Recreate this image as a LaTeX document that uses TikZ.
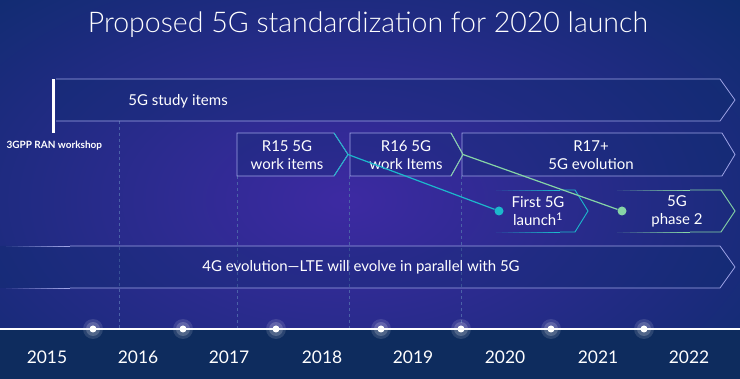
\documentclass[tikz,border=0pt]{standalone}
\usepackage{fontspec}
\setmainfont{Lato}
\newfontfamily\lightfont{Lato Light}
\definecolor{bgtop}{HTML}{0C2C6C}
\definecolor{bgbot}{HTML}{0E2C5E}
\definecolor{glowc}{HTML}{3D2AA2}
\definecolor{boxline}{HTML}{9EA3E6}
\definecolor{cyanc}{HTML}{1CB8CC}
\definecolor{greenc}{HTML}{86D4A6}
\definecolor{dashc}{HTML}{4B62A8}
\tikzset{
  boxborder/.style={draw=boxline, line width=0.8pt, fill=bgtop, fill opacity=0.3},
  boxtext/.style={text=white, font=\fontsize{15}{18}\selectfont, align=center},
  yeartext/.style={text=white, font=\fontsize{17.4}{19}\selectfont},
  dashline/.style={draw=dashc, dash pattern=on 3pt off 3pt, line width=0.6pt},
}
\newcommand\pentbox[5]{% left, top, bodyright, tip, bottom
  \path[boxborder] (#1,#2) -- (#3,#2) -- (#4,{(#2+#5)/2}) -- (#3,#5) -- (#1,#5) -- cycle;}
% fading-in horizontal lines: colour, x0, x1, y
\newcommand\fadeline[4]{%
  \foreach \k in {0,...,11} {
    \draw[#1, line width=0.9pt, opacity=\k/11] ({#2+\k*(#3-#2)/12},#4) -- ({#2+(\k+1)*(#3-#2)/12},#4);
  }}
\begin{document}
\begin{tikzpicture}[x=1pt,y=-1pt]
\useasboundingbox (0,0) rectangle (740,379);
% background
\fill[bgtop] (0,0) rectangle (740,329);
\begin{scope}
  \clip (0,0) rectangle (740,329);
  \shade[inner color=glowc, outer color=bgtop] (345,200) ellipse [x radius=560, y radius=320];
\end{scope}
\fill[bgbot] (0,329) rectangle (740,379);

% title
\node[text=white, font=\lightfont\fontsize{28.5}{32}\selectfont] (title) at (368,25) {Proposed 5G standardization for 2020 launch};

% dashed year guides
\draw[dashline] (119,121) -- (119,329);
\draw[dashline] (237,176) -- (237,329);
\draw[dashline] (349,176) -- (349,329);
\draw[dashline] (461,176) -- (461,329);

% study items
\path[boxborder] (56,79) -- (720,79) -- (735,100) -- (720,121) -- (56,121);
\fill[white] (52,79) rectangle (55,133);
\node[boxtext] (study) at (178,101) {5G study items};
\node[text=white, font=\bfseries\fontsize{10}{12}\selectfont, anchor=west] (ran) at (3,146) {3GPP RAN workshop};

% releases
\pentbox{237}{133}{334}{348}{176}
\pentbox{350}{133}{451}{463}{176}
\pentbox{462}{133}{722}{735}{176}
\draw[cyanc, line width=0.9pt] (334,133) -- (348,154.5) -- (334,176);
\draw[greenc, line width=0.9pt] (451,133) -- (463,154.5) -- (451,176);
\node[boxtext] (r15) at (287,155) {R15 5G\\work items};
\node[boxtext] (r16) at (406,155) {R16 5G\\work Items};
\node[boxtext] (r17) at (591,155) {R17+\\5G evolution};
\coordinate (r15tip) at (348,154.5);
\coordinate (r16tip) at (463,154.5);

% launches
\fadeline{cyanc}{490}{560}{190}
\fadeline{cyanc}{490}{560}{232}
\draw[cyanc, line width=0.9pt] (560,190) -- (575,190) -- (588,211) -- (575,232) -- (560,232);
\fadeline{greenc}{610}{690}{190}
\fadeline{greenc}{610}{690}{232}
\draw[greenc, line width=0.9pt] (690,190) -- (721,190) -- (735,211) -- (721,232) -- (690,232);
\node[boxtext] (launch) at (538,211) {First 5G\\launch\textsuperscript{1}};
\node[boxtext] (phase2) at (677,211) {5G\\phase 2};

% connectors
\node[circle, fill=cyanc, inner sep=0pt, minimum size=9pt] (d1) at (499,211) {};
\node[circle, fill=greenc, inner sep=0pt, minimum size=9pt] (d2) at (622,211) {};
\draw[cyanc, line width=1.2pt] (r15tip) -- (d1);
\draw[greenc, line width=1.2pt] (r16tip) -- (d2);

% 4G evolution
\fill[bgtop, opacity=0.3] (0,246) -- (720,246) -- (735,267) -- (720,288) -- (0,288) -- cycle;
\draw[boxline, line width=0.8pt] (70,246) -- (720,246) -- (735,267) -- (720,288) -- (70,288);
\fadeline{boxline}{0}{70}{246}
\fadeline{boxline}{0}{70}{288}
\node[boxtext] (lte) at (361,267) {4G evolution—LTE will evolve in parallel with 5G};

% timeline
\draw[white, line width=1.1pt] (0,329) -- (740,329);
\foreach \x [count=\i] in {93,183,276,381,461,551,644} {
  \fill[white, opacity=0.12] (\x,329) circle (10);
  \fill[white, opacity=0.18] (\x,329) circle (7);
  \node[circle, fill=white, inner sep=0pt, minimum size=7pt] (t\i) at (\x,329) {};
}
\foreach \x/\y in {47/2015,138/2016,229/2017,322/2018,413/2019,505/2020,598/2021,689/2022} {
  \node[yeartext] (y\y) at (\x,357) {\y};
}
\end{tikzpicture}
\end{document}
